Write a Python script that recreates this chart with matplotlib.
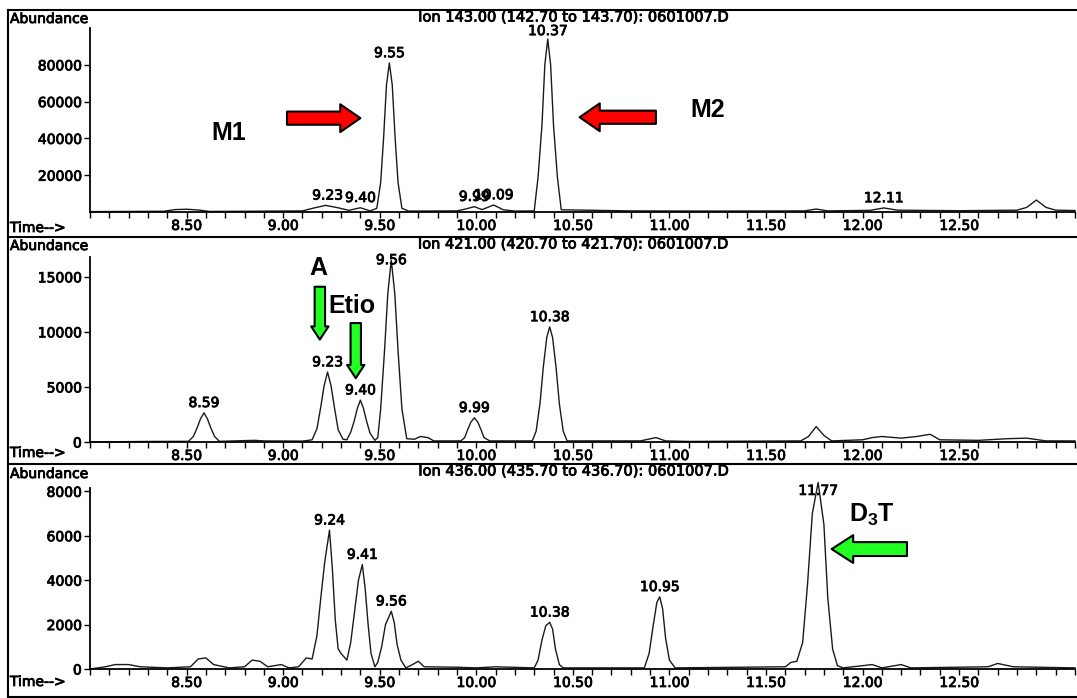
import matplotlib
matplotlib.use("Agg")
import matplotlib.pyplot as plt
import matplotlib.patheffects as pe
from matplotlib.lines import Line2D
from matplotlib.ticker import MultipleLocator, FormatStrFormatter, FixedLocator

W, H = 1077, 698

# ion 143 trace (retention time in min, abundance)
ion143_time = [8.00, 8.20, 8.38, 8.44, 8.50, 8.56, 8.62, 8.80, 8.95, 9.10, 9.16, 9.22, 9.28,
               9.34, 9.40, 9.45, 9.485, 9.505, 9.52, 9.535, 9.55, 9.565, 9.58, 9.595, 9.615,
               9.65, 9.90, 9.94, 9.99, 10.03, 10.09, 10.14, 10.20, 10.30, 10.32, 10.34,
               10.355, 10.37, 10.385, 10.40, 10.42, 10.44, 10.80, 11.20, 11.70, 11.76,
               11.82, 12.04, 12.11, 12.18, 12.50, 12.80, 12.85, 12.90, 12.95, 13.00, 13.10]
ion143_abund = [200, 300, 400, 1300, 1500, 1100, 300, 400, 500, 600, 2200, 3600, 2400,
                900, 2300, 600, 2000, 16000, 40000, 69000, 81000, 69000, 40000, 16000, 2000,
                500, 600, 1500, 2900, 1300, 3800, 1200, 500, 600, 19000, 47000,
                80000, 94000, 80000, 47000, 19000, 1200, 600, 500, 600, 1600,
                600, 900, 2200, 1000, 700, 1000, 2500, 6500, 2500, 1000, 800]
ion143_labels = ["9.23", "9.40", "9.55", "9.99", "10.09", "10.37", "12.11"]

# ion 421 trace
ion421_time = [8.00, 8.30, 8.51, 8.535, 8.555, 8.572, 8.59, 8.608, 8.625, 8.645, 8.67, 8.85,
               8.90, 9.10, 9.15, 9.175, 9.195, 9.212, 9.23, 9.248, 9.265, 9.285, 9.31, 9.33,
               9.35, 9.368, 9.385, 9.40, 9.415, 9.432, 9.45, 9.475, 9.49, 9.505, 9.525,
               9.542, 9.56, 9.578, 9.595, 9.615, 9.64, 9.68, 9.71, 9.75, 9.78, 9.92, 9.94,
               9.955, 9.972, 9.99, 10.008, 10.025, 10.04, 10.07, 10.29, 10.31, 10.33,
               10.347, 10.365, 10.38, 10.395, 10.413, 10.43, 10.45, 10.47, 10.85, 10.93,
               10.98, 11.10, 11.68, 11.72, 11.76, 11.80, 11.84, 12.00, 12.05, 12.10, 12.20,
               12.28, 12.35, 12.40, 12.60, 12.75, 12.85, 12.95, 13.10]
ion421_abund = [0, 50, 60, 500, 1300, 2100, 2650, 2100, 1300, 500, 60, 150,
                100, 80, 200, 1200, 3200, 5100, 6350, 5100, 3200, 1100, 250, 200,
                900, 1900, 3100, 3800, 3100, 1900, 800, 150, 400, 3000, 8300,
                13500, 16500, 13500, 8300, 3000, 300, 250, 500, 400, 100, 100, 400,
                1100, 1800, 2200, 1800, 1100, 400, 100, 100, 1000, 3500,
                6800, 9500, 10450, 9500, 6800, 3500, 1000, 100, 100, 400,
                100, 50, 100, 500, 1400, 600, 100, 200, 400, 500, 350,
                500, 700, 200, 150, 300, 350, 100, 100]
ion421_labels = ["8.59", "9.23", "9.40", "9.56", "9.99", "10.38"]

# ion 436 trace
ion436_time = [8.00, 8.08, 8.13, 8.20, 8.26, 8.40, 8.52, 8.56, 8.60, 8.64, 8.72, 8.80, 8.84,
               8.88, 8.92, 8.99, 9.03, 9.08, 9.12, 9.15, 9.175, 9.195, 9.215, 9.24, 9.255,
               9.27, 9.285, 9.30, 9.33, 9.35, 9.37, 9.39, 9.41, 9.425, 9.44, 9.455, 9.475,
               9.49, 9.51, 9.53, 9.56, 9.575, 9.59, 9.61, 9.635, 9.67, 9.70, 9.73, 9.90,
               10.00, 10.10, 10.30, 10.32, 10.34, 10.36, 10.38, 10.395, 10.41, 10.43, 10.45,
               10.87, 10.895, 10.915, 10.935, 10.95, 10.965, 10.98, 11.00, 11.03, 11.60,
               11.63, 11.66, 11.69, 11.715, 11.74, 11.77, 11.80, 11.82, 11.845, 11.87, 11.90,
               12.00, 12.05, 12.10, 12.20, 12.25, 12.65, 12.70, 12.78, 13.10]
ion436_abund = [0, 100, 200, 200, 100, 50, 100, 450, 500, 200, 50, 100, 400,
                350, 100, 200, 50, 100, 500, 450, 1500, 3200, 4800, 6250, 4500,
                2200, 900, 700, 400, 1200, 2600, 4000, 4700, 3600, 2000, 700, 100,
                300, 1000, 2000, 2600, 2100, 1100, 400, 50, 200, 350, 100, 80,
                50, 100, 50, 400, 1300, 1950, 2100, 1800, 900, 200, 50,
                50, 700, 1900, 3000, 3250, 2700, 1400, 400, 50, 100,
                300, 350, 1200, 3800, 7000, 8400, 6500, 3200, 900, 150, 50,
                150, 200, 50, 200, 50, 100, 250, 100, 50]
ion436_labels = ["9.24", "9.41", "9.56", "10.38", "10.95", "11.77"]

TRACE = "#1a1a1a"
RED = "#ff0000"
GREEN = "#22ff22"
INK = [pe.withStroke(linewidth=0.6, foreground="black")]

plt.rcParams["font.family"] = ["DejaVu Sans"]
plt.rcParams["mathtext.fontset"] = "custom"
plt.rcParams["mathtext.bf"] = "Liberation Sans:bold"
plt.rcParams["mathtext.rm"] = "Liberation Sans:bold"

fig = plt.figure(figsize=(W / 100, H / 100), dpi=100)


def fx(px):
    return px / W


def fy(py):
    return 1 - py / H


def draw_panel(top, bottom, times, abund, ymax, ytick_vals, labels, title, title_y, abund_y, time_y):
    ax = fig.add_axes([fx(90), fy(bottom), fx(985), (bottom - top) / H])
    ax.plot(times, abund, color=TRACE, lw=1.0, clip_on=False)
    ax.set_xlim(8.0, 13.1)
    ax.set_ylim(0, ymax)
    for s in ("top", "right"):
        ax.spines[s].set_visible(False)
    for s in ("left", "bottom"):
        ax.spines[s].set_linewidth(1.3)
    ax.xaxis.set_major_locator(FixedLocator([8.5, 9.0, 9.5, 10.0, 10.5, 11.0, 11.5, 12.0, 12.5]))
    ax.xaxis.set_major_formatter(FormatStrFormatter("%.2f"))
    ax.xaxis.set_minor_locator(MultipleLocator(0.1))
    ax.yaxis.set_major_locator(FixedLocator(ytick_vals))
    ax.tick_params(axis="both", which="both", direction="out", length=4, width=1,
                   labelsize=10, pad=2)
    ax.tick_params(axis="x", pad=1)
    for t in ax.get_xticklabels() + ax.get_yticklabels():
        t.set_path_effects(INK)
    ax.patch.set_alpha(0)

    # peak retention time labels sit on the highest point near each peak
    for lab in labels:
        rt = float(lab)
        near = [a for t, a in zip(times, abund) if abs(t - rt) <= 0.02]
        h = min(max(near), ymax * 0.93)
        ax.annotate(lab, (rt, h), xytext=(0, 2), textcoords="offset points",
                    ha="center", va="bottom", fontsize=10, path_effects=INK)

    fig.text(fx(574), fy(title_y), title, ha="center", va="center", fontsize=10.5,
             path_effects=INK)
    fig.text(fx(10), fy(abund_y), "Abundance", ha="left", va="center", fontsize=10,
             path_effects=INK)
    fig.text(fx(10), fy(time_y), "Time-->", ha="left", va="center", fontsize=10,
             path_effects=INK)
    return ax


def block_arrow(ax, tail, tip, color, tw, hw, hl):
    ax.annotate("", xy=tip, xytext=tail,
                arrowprops=dict(arrowstyle=f"simple,tail_width={tw},head_width={hw},head_length={hl}",
                                fc=color, ec="black", lw=1.5, shrinkA=0, shrinkB=0,
                                mutation_scale=10))


ax1 = draw_panel(28, 212, ion143_time, ion143_abund, 100000, [20000, 40000, 60000, 80000],
                 ion143_labels, "Ion 143.00 (142.70 to 143.70): 0601007.D", 17, 19, 228)
ax2 = draw_panel(257, 442, ion421_time, ion421_abund, 16800, [0, 5000, 10000, 15000],
                 ion421_labels, "Ion 421.00 (420.70 to 421.70): 0601007.D", 244, 246, 453)
ax3 = draw_panel(488, 669, ion436_time, ion436_abund, 8150, [0, 2000, 4000, 6000, 8000],
                 ion436_labels, "Ion 436.00 (435.70 to 436.70): 0601007.D", 471, 474, 682)

# panel frames
for y in (10, 237, 464, 697):
    fig.add_artist(Line2D([fx(8), 1.0], [fy(y), fy(y)], color="black", lw=1.5))
fig.add_artist(Line2D([fx(8), fx(8)], [fy(10), fy(697)], color="black", lw=1.5))

lbl = dict(fontsize=18, fontweight="bold", family="Liberation Sans", ha="center", va="center")

# M1 / M2 arrows
ax1.text(8.72, 42900, "M1", **lbl)
block_arrow(ax1, (9.02, 51000), (9.40, 51000), RED, 0.95, 2.0, 1.45)
ax1.text(11.20, 55400, "M2", **lbl)
block_arrow(ax1, (10.93, 51500), (10.535, 51500), RED, 0.95, 2.0, 1.45)

# A / Etio arrows
ax2.text(9.18, 15800, "A", **lbl)
block_arrow(ax2, (9.19, 14100), (9.19, 9300), GREEN, 0.75, 1.25, 0.95)
ax2.text(9.355, 12360, "Etio", **lbl)
block_arrow(ax2, (9.376, 10800), (9.376, 5800), GREEN, 0.75, 1.25, 0.95)

# D3T arrow
ax3.text(12.05, 6930, r"$\mathbf{D}_\mathbf{3}\mathbf{T}$", **lbl)
block_arrow(ax3, (12.23, 5400), (11.84, 5400), GREEN, 1.0, 2.0, 1.55)

fig.savefig("out.png", dpi=100)
